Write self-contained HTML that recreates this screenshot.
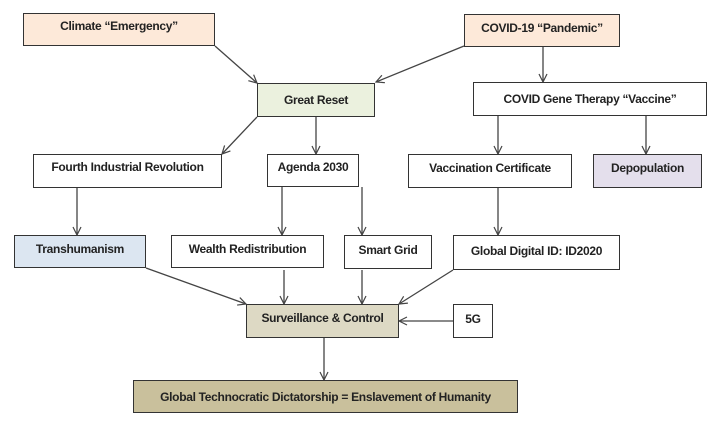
<!DOCTYPE html>
<html><head><meta charset="utf-8"><style>
body{margin:0;background:#fff;}
.w{position:relative;width:720px;height:426px;overflow:hidden;background:#fff;font-family:"Liberation Sans",sans-serif;}
.b{position:absolute;box-sizing:border-box;border:1.5px solid #333;display:flex;align-items:center;justify-content:center;font-weight:bold;font-size:12px;color:#222;letter-spacing:-0.3px;white-space:nowrap;}
svg{position:absolute;left:0;top:0;}
</style></head><body><div class="w">
<svg width="720" height="426"><defs><marker id="a" markerWidth="10" markerHeight="10" refX="9" refY="5" orient="auto" markerUnits="userSpaceOnUse"><path d="M1,1 L9,5 L1,9" fill="none" stroke="#444" stroke-width="1.2"/></marker></defs>
<g stroke="#444" stroke-width="1.3" marker-end="url(#a)">
<line x1="215" y1="46" x2="257" y2="83"/>
<line x1="464" y1="46" x2="376" y2="82"/>
<line x1="543" y1="46" x2="543" y2="82"/>
<line x1="257" y1="117" x2="222" y2="154"/>
<line x1="316" y1="117" x2="316" y2="154"/>
<line x1="498" y1="116" x2="498" y2="154"/>
<line x1="646" y1="116" x2="646" y2="154"/>
<line x1="77" y1="188" x2="77" y2="235"/>
<line x1="282" y1="187" x2="282" y2="235"/>
<line x1="362" y1="187" x2="362" y2="235"/>
<line x1="498" y1="188" x2="498" y2="235"/>
<line x1="146" y1="268" x2="246" y2="304"/>
<line x1="284" y1="270" x2="284" y2="304"/>
<line x1="362" y1="270" x2="362" y2="304"/>
<line x1="453" y1="270" x2="399" y2="304"/>
<line x1="453" y1="321" x2="399" y2="321"/>
<line x1="324" y1="338" x2="324" y2="380"/>
</g></svg>
<div class="b" style="left:23px;top:13px;width:192px;height:33px;background:#fde9d9;padding-bottom:8px">Climate “Emergency”</div>
<div class="b" style="left:464px;top:14px;width:156px;height:33px;background:#fde9d9;padding-bottom:6px">COVID-19 “Pandemic”</div>
<div class="b" style="left:257px;top:83px;width:118px;height:34px;background:#ebf1de">Great Reset</div>
<div class="b" style="left:473px;top:82px;width:234px;height:34px;background:#fff">COVID Gene Therapy “Vaccine”</div>
<div class="b" style="left:33px;top:154px;width:189px;height:34px;background:#fff;padding-bottom:8px">Fourth Industrial Revolution</div>
<div class="b" style="left:267px;top:154px;width:92px;height:33px;background:#fff;padding-bottom:8px">Agenda 2030</div>
<div class="b" style="left:408px;top:154px;width:164px;height:34px;background:#fff;padding-bottom:6px">Vaccination Certificate</div>
<div class="b" style="left:593px;top:154px;width:109px;height:34px;background:#e4dfec;padding-bottom:6px">Depopulation</div>
<div class="b" style="left:14px;top:235px;width:132px;height:33px;background:#dce6f1;padding-bottom:6px">Transhumanism</div>
<div class="b" style="left:171px;top:235px;width:153px;height:33px;background:#fff;padding-bottom:6px">Wealth Redistribution</div>
<div class="b" style="left:344px;top:235px;width:88px;height:34px;background:#fff;padding-bottom:4px">Smart Grid</div>
<div class="b" style="left:453px;top:235px;width:167px;height:35px;background:#fff;padding-bottom:4px">Global Digital ID: ID2020</div>
<div class="b" style="left:246px;top:304px;width:153px;height:34px;background:#ddd9c4;padding-bottom:6px">Surveillance &amp; Control</div>
<div class="b" style="left:453px;top:304px;width:40px;height:34px;background:#fff;padding-bottom:4px">5G</div>
<div class="b" style="left:133px;top:380px;width:385px;height:33px;background:#c9c09c">Global Technocratic Dictatorship = Enslavement of Humanity</div>
</div></body></html>
